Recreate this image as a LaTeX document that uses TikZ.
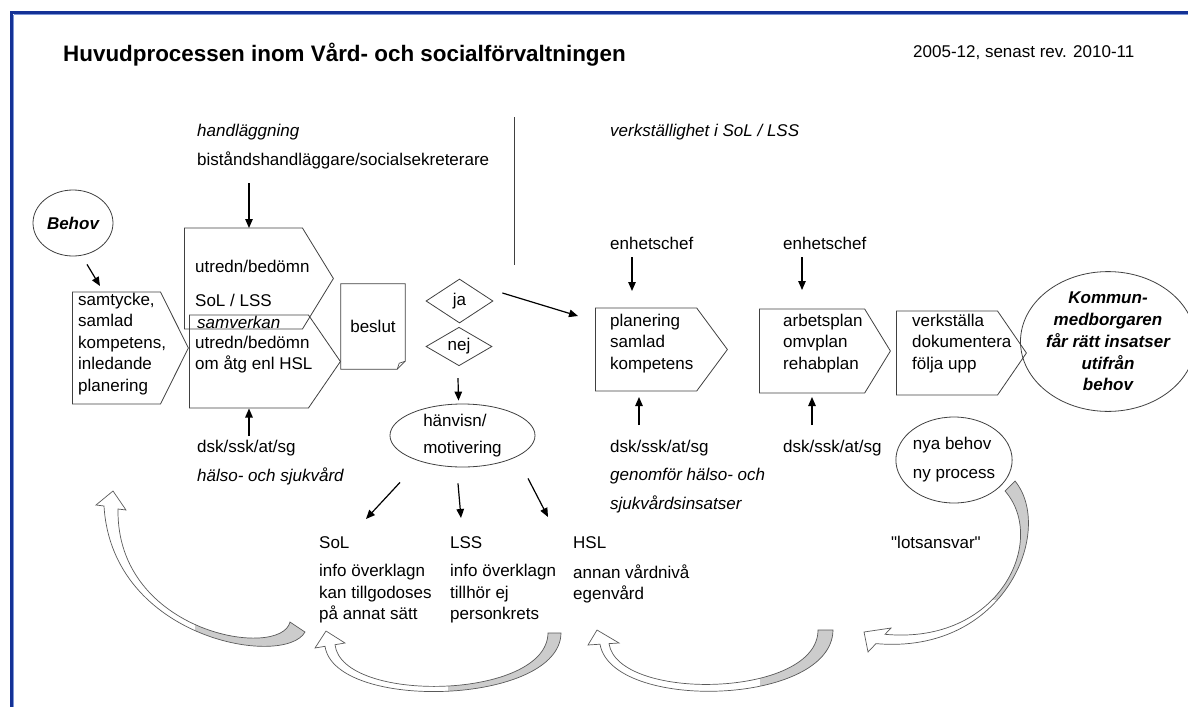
\documentclass[tikz,border=0pt]{standalone}
\usepackage{fontspec}
\setmainfont{Liberation Sans}
\newfontfamily\rawfont{Liberation Sans}
\usetikzlibrary{positioning}
\usetikzlibrary{shapes.geometric,shapes.symbols}
\usetikzlibrary{arrows.meta}

\definecolor{ramblue}{RGB}{20,50,150}
\definecolor{ramlight}{RGB}{125,150,215}
\definecolor{bandgrey}{RGB}{204,204,204}

\tikzset{
  txt/.style={inner sep=0pt, align=left, anchor=west},
  it/.style={font=\fontsize{17}{21.5}\selectfont\itshape},
  bfit/.style={font=\fontsize{17}{21.75}\selectfont\bfseries\itshape},
  procbox/.style={shape=signal, signal to=east, signal pointer angle=#1,
    draw=black!75, line width=0.8pt, inner sep=0pt, anchor=west},
  bubble/.style={ellipse, draw=black!75, line width=0.8pt, inner sep=0pt},
  choice/.style={diamond, draw=black!75, line width=0.8pt, inner sep=0pt},
  arr/.style={-{Triangle[length=9pt,width=7.5pt]}, line width=1.2pt},
  band/.style={draw=black!65, line width=0.7pt}
}

% curved return arrows
\def\bandA{(305,632) .. controls (285,668) and (112,640) .. (104,506) -- (96,505) -- (113,491) -- (126,510) -- (118,509) .. controls (116,634) and (281,660) .. (290,622) -- cycle}
\def\bandB{(561,633) .. controls (560,705) and (335,712) .. (325,646.3) -- (315,648) -- (326,631) -- (345,643) -- (335,644.7) .. controls (342,704) and (547,700) .. (548,633) -- cycle}
\def\bandC{(833,630) .. controls (832,706) and (612,712) .. (600,644.2) -- (588,645) -- (597,630) -- (619,643) -- (609,643.6) .. controls (618,702) and (818,698) .. (818,630) -- cycle}
\def\bandD{(1015,481) .. controls (1055,530) and (1005,655) .. (876,643.6) -- (868,652) -- (864,632) -- (891,628) -- (885,634.3) .. controls (1000,645) and (1048,540) .. (1005,491) -- cycle}

\begin{document}
\begin{tikzpicture}[x=1pt, y=-1pt, font=\fontsize{17}{21.5}\selectfont]
\useasboundingbox (0,0) rectangle (1188,707);

% frame
\draw[ramblue, line width=2.5pt] (10,12.5) -- (1188,12.5);
\draw[ramblue, line width=2.5pt] (11.5,11.25) -- (11.5,707);
\draw[ramlight, line width=0.8pt] (13.5,14.5) -- (1188,14.5);
\draw[ramlight, line width=0.8pt] (13.5,14.5) -- (13.5,707);

% headings
\node (title) [txt, font=\fontsize{22.4}{26}\selectfont\bfseries] at (63,55) {Huvudprocessen inom Vård- och socialförvaltningen};
\node (date) [txt] at (913,53) {2005-12, senast rev. 2010-11};
\node (handl) [txt, it] at (197,132) {handläggning};
\node (bist) [txt] at (197,160) {biståndshandläggare/socialsekreterare};
\node (verk) [txt, it] at (610,132) {verkställighet i SoL / LSS};
\draw[black!75, line width=1pt] (514,117) -- (514,265);

% handlaggning
\node (behov) [bubble, bfit, minimum width=80, minimum height=66] at (73,223) {Behov};
\node (samt) [procbox=127, minimum width=116, minimum height=112] at (72,348) {};
\node (samt-t) [txt, right=6pt of samt.west, yshift=4pt] {samtycke,\\samlad\\kompetens,\\inledande\\planering};
\node (utrA) [procbox=117, minimum width=149, minimum height=101] at (184,278.5) {};
\node (utrA-t) [txt, right=11pt of utrA.west, yshift=-4.5pt] {utredn/bedömn\\[12.5pt]SoL / LSS};
\node (utrB) [procbox=111, minimum width=151, minimum height=93] at (189,361.5) {};
\node (utrB-t) [txt, right=6pt of utrB.west, yshift=7pt] {utredn/bedömn\\om åtg enl HSL};
\node (samv) [txt, it] at (197,322) {samverkan};
\node (beslut) [minimum width=64, minimum height=85, inner sep=0pt] at (373,326.5) {beslut};
\draw[black!75, line width=0.8pt] (beslut.north west) -- (beslut.north east)
  -- ([shift={(0,-8)}]beslut.south east) -- ([shift={(-8,0)}]beslut.south east)
  -- (beslut.south west) -- cycle;
\draw[black!75, line width=0.6pt] ([shift={(-8,0)}]beslut.south east)
  -- ([shift={(-6,-6)}]beslut.south east) -- ([shift={(0,-8)}]beslut.south east);
\node (dsk1) [txt] at (197,448) {dsk/ssk/at/sg};
\node (hsv) [txt, it] at (197,476) {hälso- och sjukvård};

% beslut ja / nej
\node (ja) [choice, minimum width=67, minimum height=44] at (459.5,301) {ja};
\node (nej) [choice, minimum width=66, minimum height=37] at (459,346.5) {nej};
\node (hanv) [bubble, align=left, minimum width=145, minimum height=63] at (462.5,435.5) {hänvisn/\\[5.5pt]motivering};
\node (sol) [txt] at (319,543) {SoL};
\node (lss) [txt] at (450,543) {LSS};
\node (hsl) [txt] at (573,543) {HSL};
\node (solinfo) [txt] at (319,594) {info överklagn\\kan tillgodoses\\på annat sätt};
\node (lssinfo) [txt] at (450,594) {info överklagn\\tillhör ej\\personkrets};
\node (hslinfo) [txt] at (573,584) {annan vårdnivå\\egenvård};

% verkstallighet
\node (ench1) [txt] at (610,243) {enhetschef};
\node (plan) [procbox=107, minimum width=132, minimum height=83] at (595,349.5) {};
\node (plan-t) [txt, right=15pt of plan.west, yshift=6pt] {planering\\samlad\\kompetens};
\node (dsk2) [txt] at (610,448) {dsk/ssk/at/sg};
\node (genom) [txt, it] at (610,490.5) {genomför hälso- och\\[7.5pt]sjukvårdsinsatser};
\node (ench2) [txt] at (783,243) {enhetschef};
\node (arb) [procbox=117, minimum width=131, minimum height=84] at (759,351) {};
\node (arb-t) [txt, right=24pt of arb.west, yshift=7.5pt] {arbetsplan\\omvplan\\rehabplan};
\node (dsk3) [txt] at (783,448) {dsk/ssk/at/sg};
\node (verks) [procbox=111, minimum width=130, minimum height=84] at (896,353) {};
\node (verks-t) [txt, right=16pt of verks.west, yshift=9.5pt] {verkställa\\dokumentera\\följa upp};
\node (kommun) [bubble, bfit, align=center, minimum width=152, minimum height=137] at (1108,341.5) {Kommun-\\medborgaren\\får rätt insatser\\utifrån\\behov};
\node (nya) [bubble, align=left, minimum width=110, minimum height=86] at (954,460) {nya behov\\[7.5pt]ny process};
\node (lots) [txt, font=\fontsize{17}{21.5}\rawfont] at (891,542) {"lotsansvar"};

% connectors
\path [arr]
  ([shift={(14,8)}]behov.south) edge ([shift={(28,-62)}]samt.west)
  ([shift={(52,23)}]bist.west) edge ([shift={(65,-50.5)}]utrA.west)
  ([shift={(52,-12)}]dsk1.west) edge ([shift={(60,47)}]utrB.west)
  ([shift={(9,-8)}]ja.east) edge ([shift={(-17,-33.5)}]plan.west)
  ([shift={(-1,12)}]nej.south) edge ([shift={(-4,-3)}]hanv.north)
  ([shift={(22,14)}]ench1.west) edge ([shift={(37,-58.5)}]plan.west)
  ([shift={(29,-23)}]dsk2.west) edge ([shift={(44,47.5)}]plan.west)
  ([shift={(19,14)}]ench2.west) edge ([shift={(43,-61)}]arb.west)
  ([shift={(29,-23)}]dsk3.west) edge ([shift={(53,46)}]arb.west)
  ([shift={(-62.5,15)}]hanv.south) edge ([shift={(47,-24)}]sol.west)
  ([shift={(-4.5,16)}]hanv.south) edge ([shift={(11,-25)}]lss.west)
  ([shift={(65.5,11)}]hanv.south) edge ([shift={(-25,-26)}]hsl.west);

% return arrows
\begin{scope}
  \clip \bandA;
  \fill[bandgrey] (195,560) rectangle (320,670);
\end{scope}
\draw[band] \bandA;
\begin{scope}
  \clip \bandB;
  \fill[bandgrey] (448,600) rectangle (570,720);
\end{scope}
\draw[band] \bandB;
\begin{scope}
  \clip \bandC;
  \fill[bandgrey] (760,600) rectangle (840,720);
\end{scope}
\draw[band] \bandC;
\begin{scope}
  \clip \bandD;
  \fill[bandgrey] (960,470) rectangle (1060,600);
\end{scope}
\draw[band] \bandD;
\end{tikzpicture}
\end{document}
